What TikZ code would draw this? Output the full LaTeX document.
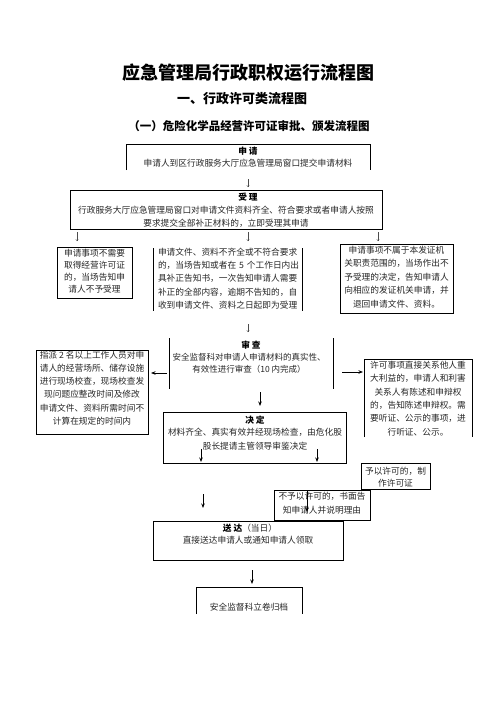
\documentclass[tikz,border=0pt]{standalone}
\usepackage{fontspec}
\setmainfont{Noto Sans CJK SC}
\usetikzlibrary{arrows.meta}
\begin{document}
\begin{tikzpicture}[x=1pt,y=-1pt,
  bd/.style={line width=0.9pt},
  bx/.style={draw=none,inner sep=0,outer sep=0,anchor=north west},
  fbx/.style={draw,line width=0.9pt,inner sep=0,outer sep=0,anchor=north west},
  txt/.style={inner sep=0,align=center,font=\fontsize{8.7}{13}\selectfont,text=black!85},
  hd/.style={inner sep=0,font=\fontsize{8.7}{13}\selectfont\bfseries},
  thin/.style={-{To[length=1.8pt,width=2.6pt]},line width=0.4pt,black!70},
  thick/.style={-{Stealth[length=4.5pt,width=3.5pt]},line width=0.9pt}]
\useasboundingbox (0,0) rectangle (496,702);
% titles
\node[inner sep=0,font=\fontsize{18}{20}\selectfont\bfseries] (t1) at (248,73) {应急管理局行政职权运行流程图};
\node[inner sep=0,font=\fontsize{13}{15}\selectfont\bfseries] (t2) at (242,99) {一、行政许可类流程图};
\node[inner sep=0,font=\fontsize{11.5}{13}\selectfont\bfseries] (t3) at (249,126) {（一）危险化学品经营许可证审批、颁发流程图};
% box 1
\node[bx,minimum width=244pt,minimum height=26pt] (b1) at (126,144) {};
\draw[bd] (b1.south west) -- (b1.north west) -- (b1.north east) -- (b1.south east);
\node[hd] (b1h) at (248,151) {申\ 请};
\node[txt] (b1t) at (248,163) {申请人到区行政服务大厅应急管理局窗口提交申请材料};
% box 2
\node[fbx,minimum width=312pt,minimum height=39pt] (b2) at (70,190) {};
\node[hd] (b2h) at (248,197) {受\ 理};
\node[txt] (b2t) at (226,216.5) {行政服务大厅应急管理局窗口对申请文件资料齐全、符合要求或者申请人按照\\要求提交全部补正材料的，立即受理其申请};
% row 3
\node[fbx,minimum width=75pt,minimum height=51pt] (b3l) at (57,247) {};
\node[txt,font=\fontsize{8.7}{12}\selectfont] (b3lt) at (94.5,271) {申请事项不需要\\取得经营许可证\\的，当场告知申\\请人不予受理};
\node[bx,minimum width=149pt,minimum height=63pt] (b3m) at (153,248) {};
\draw[bd] (b3m.north west) -- (b3m.south west);
\draw[bd] (b3m.north east) -- (b3m.south east);
\node[txt,align=left,text width=142pt,font=\fontsize{8.7}{13.3}\selectfont] (b3mt) at (229,278.5) {申请文件、资料不齐全或不符合要求\\的，当场告知或者在 5 个工作日内出\\具补正告知书，一次告知申请人需要\\补正的全部内容，逾期不告知的，自\\收到申请文件、资料之日起即为受理};
\node[fbx,minimum width=113pt,minimum height=69pt] (b3r) at (340,244) {};
\node[txt,font=\fontsize{8.7}{13.5}\selectfont] (b3rt) at (396.5,277) {申请事项不属于本发证机\\关职责范围的，当场作出不\\予受理的决定，告知申请人\\向相应的发证机关申请，并\\退回申请文件、资料。};
% row 4
\node[bx,minimum width=164pt,minimum height=51pt] (b4) at (169,338) {};
\draw[bd] (b4.north west) -- (b4.south west);
\draw[bd] (b4.north east) -- (b4.south east);
\node[hd] (b4h) at (251,345) {审\ 查};
\node[txt,font=\fontsize{8.5}{12}\selectfont] (b4t) at (249,363) {安全监督科对申请人申请材料的真实性、\\有效性进行审查（10 内完成）};
\node[fbx,minimum width=112pt,minimum height=84pt] (b4l) at (36,350) {};
\node[txt,font=\fontsize{8.7}{13.2}\selectfont] (b4lt) at (92,388) {指派 2 名以上工作人员对申\\请人的经营场所、储存设施\\进行现场校查，现场校查发\\现问题应整改时间及修改\\申请文件、资料所需时间不\\计算在规定的时间内};
\node[bx,minimum width=108pt,minimum height=78pt] (b4r) at (364,359) {};
\draw[bd] (b4r.south west) -- (b4r.north west) -- (b4r.north east) -- (b4r.south east);
\node[txt,font=\fontsize{8.7}{13.4}\selectfont] (b4rt) at (418,398.5) {许可事项直接关系他人重\\大利益的，申请人和利害\\关系人有陈述和申辩权\\的，告知陈述申辩权。需\\要听证、公示的事项，进\\行听证、公示。};
% decision
\node[fbx,minimum width=183pt,minimum height=51pt] (b5) at (163,412) {};
\node[hd] (b5h) at (255,420) {决\ 定};
\node[txt,font=\fontsize{8.7}{14}\selectfont] (b5t) at (255,439) {材料齐全、真实有效并经现场检查，由危化股\\股长提请主管领导审鉴决定};
\node[fbx,minimum width=69pt,minimum height=26pt] (b6) at (361,463) {};
\node[txt,font=\fontsize{8.7}{12}\selectfont] (b6t) at (395.5,477) {予以许可的，制\\作许可证};
\node[fbx,minimum width=96pt,minimum height=30pt] (b7) at (274,490) {};
\node[txt,font=\fontsize{8.7}{14}\selectfont] (b7t) at (322,503) {不予以许可的，书面告\\知申请人并说明理由};
\node[fbx,minimum width=190pt,minimum height=39pt] (b8) at (153,521) {};
\node[inner sep=0,font=\fontsize{8.7}{13}\selectfont] (b8h) at (250,528) {\textbf{送\ 达}\textcolor{black!85}{（当日）}};
\node[txt] (b8t) at (248,540) {直接送达申请人或通知申请人领取};
\node[bx,minimum width=106pt,minimum height=27pt] (b9) at (196,587) {};
\draw[bd] (b9.south west) -- (b9.north west) -- (b9.north east) -- (b9.south east);
\node[txt] (b9t) at (249,607) {安全监督科立卷归档};
% arrow coordinates
\coordinate (a1s) at (248,179); \coordinate (a1e) at (248,187);
\coordinate (a2s) at (77,232); \coordinate (a2e) at (77,241);
\coordinate (a3s) at (248,232); \coordinate (a3e) at (248,241);
\coordinate (a4s) at (378,232); \coordinate (a4e) at (378,241);
\coordinate (a5s) at (248,324); \coordinate (a5e) at (248,332);
\coordinate (a6s) at (167,373); \coordinate (a6e) at (151,373);
\coordinate (a7s) at (342,372); \coordinate (a7e) at (363,372);
\coordinate (a8s) at (260,392); \coordinate (a8e) at (260,406);
\coordinate (a9s) at (201,449); \coordinate (a9e) at (201,462);
\coordinate (a10s) at (317,449); \coordinate (a10e) at (317,462);
\coordinate (a11s) at (203,494); \coordinate (a11e) at (203,508);
\coordinate (a12s) at (307,490); \coordinate (a12e) at (307,512);
\coordinate (a13s) at (252,570); \coordinate (a13e) at (252,584);
\draw[thin] (a1s) -- (a1e);
\draw[thin] (a2s) -- (a2e);
\draw[thin] (a3s) -- (a3e);
\draw[thin] (a4s) -- (a4e);
\draw[thin] (a5s) -- (a5e);
\draw[thick] (a6s) -- (a6e);
\draw[thick] (a7s) -- (a7e);
\draw[thick] (a8s) -- (a8e);
\draw[thick] (a9s) -- (a9e);
\draw[thick] (a10s) -- (a10e);
\draw[thick] (a11s) -- (a11e);
\draw[thick] (a12s) -- (a12e);
\draw[thick] (a13s) -- (a13e);
\end{tikzpicture}
\end{document}
